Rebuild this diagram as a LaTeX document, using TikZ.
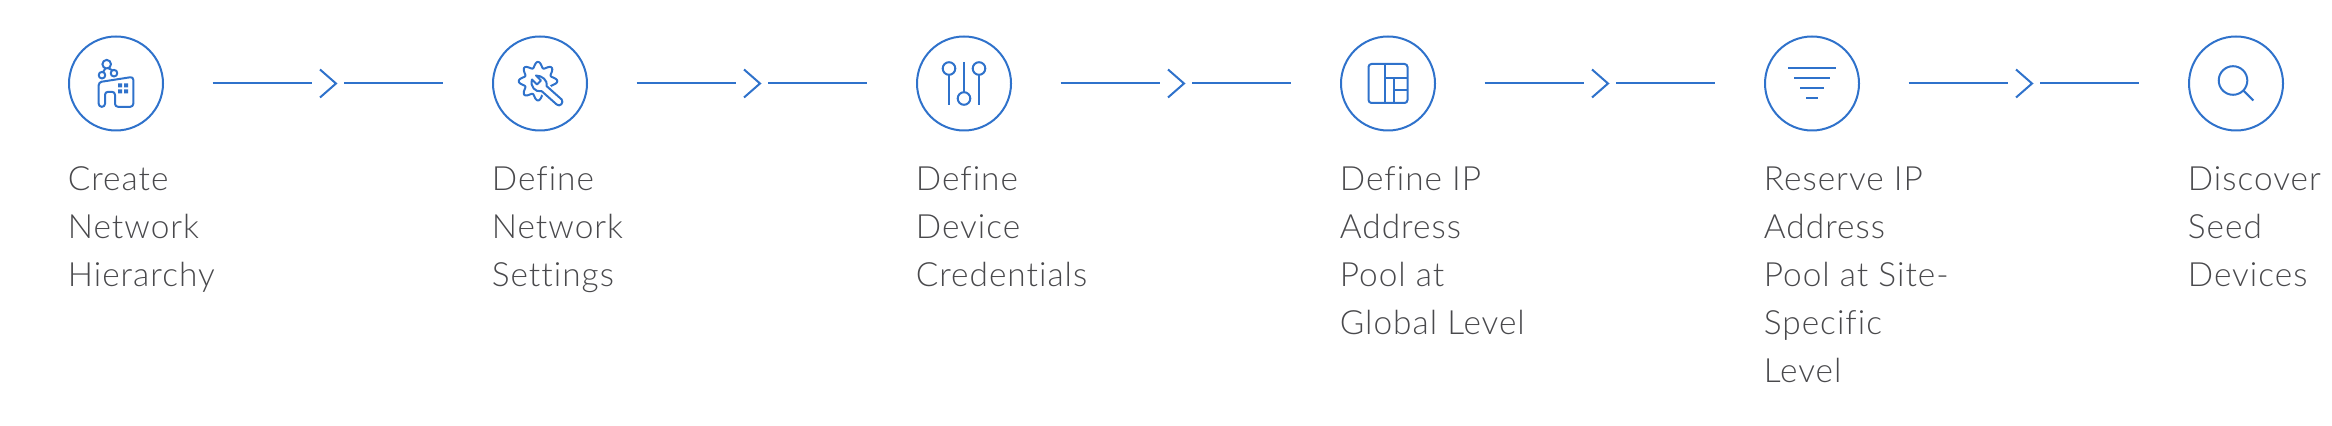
\documentclass[tikz,border=0pt]{standalone}
\usepackage{fontspec}
\setmainfont{Lato}[UprightFont=* Light,LetterSpace=3,Ligatures=NoCommon]
\usepackage{tikz}
\usetikzlibrary{positioning}
\definecolor{ciscoblue}{HTML}{2F72CB}
\definecolor{labelgray}{HTML}{49494C}
\tikzset{
	flow/.style={draw=ciscoblue, line width=1pt},
	step circle/.style={circle, draw=ciscoblue, line width=1pt, minimum size=47pt, inner sep=0pt},
	chevron/.style={minimum width=16pt, minimum height=16pt, inner sep=0pt,
		path picture={\draw[flow] (-4pt,-7pt) -- (4pt,0pt) -- (-4pt,7pt);}},
	stretch/.style={flow, shorten <=24.3pt},
	stretch back/.style={flow, shorten >=24.5pt},
	steplabel/.style={anchor=north west, inner sep=0pt, align=left, text=labelgray, font=\fontsize{16.7}{24}\selectfont, execute at begin node=\strut},
}
\begin{document}
\begin{tikzpicture}[x=0.5pt, y=-0.5pt]
		\useasboundingbox (0,0) rectangle (2332,426);

		\node[step circle] (hierarchy) at (116,83.5) {};
		\node[step circle] (settings) at (540,83.5) {};
		\node[step circle] (credentials) at (964,83.5) {};
		\node[step circle] (globalpool) at (1388,83.5) {};
		\node[step circle] (sitepool) at (1812,83.5) {};
		\node[step circle] (discover) at (2236,83.5) {};

		\node[chevron] (g1) at (328,83.5) {};
		\node[chevron] (g2) at (752,83.5) {};
		\node[chevron] (g3) at (1176,83.5) {};
		\node[chevron] (g4) at (1600,83.5) {};
		\node[chevron] (g5) at (2024,83.5) {};

		\draw[stretch] (hierarchy) -- (g1);
		\draw[stretch back] (g1) -- (settings);
		\draw[stretch] (settings) -- (g2);
		\draw[stretch back] (g2) -- (credentials);
		\draw[stretch] (credentials) -- (g3);
		\draw[stretch back] (g3) -- (globalpool);
		\draw[stretch] (globalpool) -- (g4);
		\draw[stretch back] (g4) -- (sitepool);
		\draw[stretch] (sitepool) -- (g5);
		\draw[stretch back] (g5) -- (discover);

		\node[steplabel] (t1) at (67.5,166.5) {Create\\Network\\Hierarchy};
		\node[steplabel] (t2) at (491.5,166.5) {Define\\Network\\Settings};
		\node[steplabel] (t3) at (915.5,166.5) {Define\\Device\\Credentials};
		\node[steplabel] (t4) at (1339.5,166.5) {Define IP\\Address\\Pool at\\Global Level};
		\node[steplabel] (t5) at (1763.5,166.5) {Reserve IP\\Address\\Pool at Site-\\Specific\\Level};
		\node[steplabel] (t6) at (2187.5,166.5) {Discover\\Seed\\Devices};

		% building icon
		\begin{scope}[shift={(hierarchy.center)}, flow, line join=round]
			\draw (-9.3,-19.3) circle (4.3);
			\draw (-14,-8.3) circle (3.3);
			\draw (-2,-10.3) circle (3.3);
			\draw (-10.6,-15.2) -- (-12.9,-11.4);
			\draw (-7.7,-15.3) -- (-3.6,-13.2);
			\draw[rounded corners=1.5pt] (-17.3,-1.3) -- (17.3,-6.7) -- (17.3,23.3) -- (-1,23.3) -- (-1,8.3) -- (-11,8.3) -- (-11,23.3) -- (-17.3,23.3) -- cycle;
			\fill[ciscoblue] (2,0) rectangle (6,4) (8,0) rectangle (12,4) (2,6) rectangle (6,10) (8,6) rectangle (12,10);
		\end{scope}

		% gear and wrench icon
		\begin{scope}[shift={(settings.center)}, flow, line join=round, line cap=round]
			\draw[smooth, samples=120, domain=0:360] plot ({-2+(16.5+2.8*cos(8*\x))*cos(\x)}, {-2.3+(16.5+2.8*cos(8*\x))*sin(\x)});
			\draw[fill=white, preaction={draw=white, line width=2.5pt}] (16.7,21) -- (1.7,7.7) .. controls (-5,9) and (-10,3) .. (-8,-4) -- (-3,1) -- (1,-3) -- (-4,-8) .. controls (2,-8) and (8,-3) .. (6.7,2.7) -- (21.7,16) .. controls (24,19) and (20,24) .. (16.7,21) -- cycle;
		\end{scope}

		% sliders icon
		\begin{scope}[shift={(credentials.center)}, flow]
			\draw (-15,-15) circle (6.3);
			\draw (15,-15) circle (6.3);
			\draw (0,15) circle (6.3);
			\draw (-15,-8.7) -- (-15,21.7);
			\draw (15,-8.7) -- (15,21.7);
			\draw (0,-21.7) -- (0,8.7);
		\end{scope}

		% layout icon
		\begin{scope}[shift={(globalpool.center)}, flow]
			\draw[rounded corners=1.5pt] (-19.5,-19.5) rectangle (19.5,19.5);
			\draw (-3.3,-19.5) -- (-3.3,19.5);
			\draw (-3.3,-5) -- (19.5,-5);
			\draw (6.3,-5) -- (6.3,19.5);
			\draw (6.3,7) -- (19.5,7);
		\end{scope}

		% filter icon
		\begin{scope}[shift={(sitepool.center)}, flow]
			\draw (-24,-15) -- (24,-15);
			\draw (-18,-5) -- (18,-5);
			\draw (-12,5) -- (12,5);
			\draw (-6,15) -- (6,15);
		\end{scope}

		% magnifier icon
		\begin{scope}[shift={(discover.center)}, flow]
			\draw (-3,-3) circle (14.3);
			\draw (7.3,7) -- (17.3,17);
		\end{scope}
\end{tikzpicture}
\end{document}
